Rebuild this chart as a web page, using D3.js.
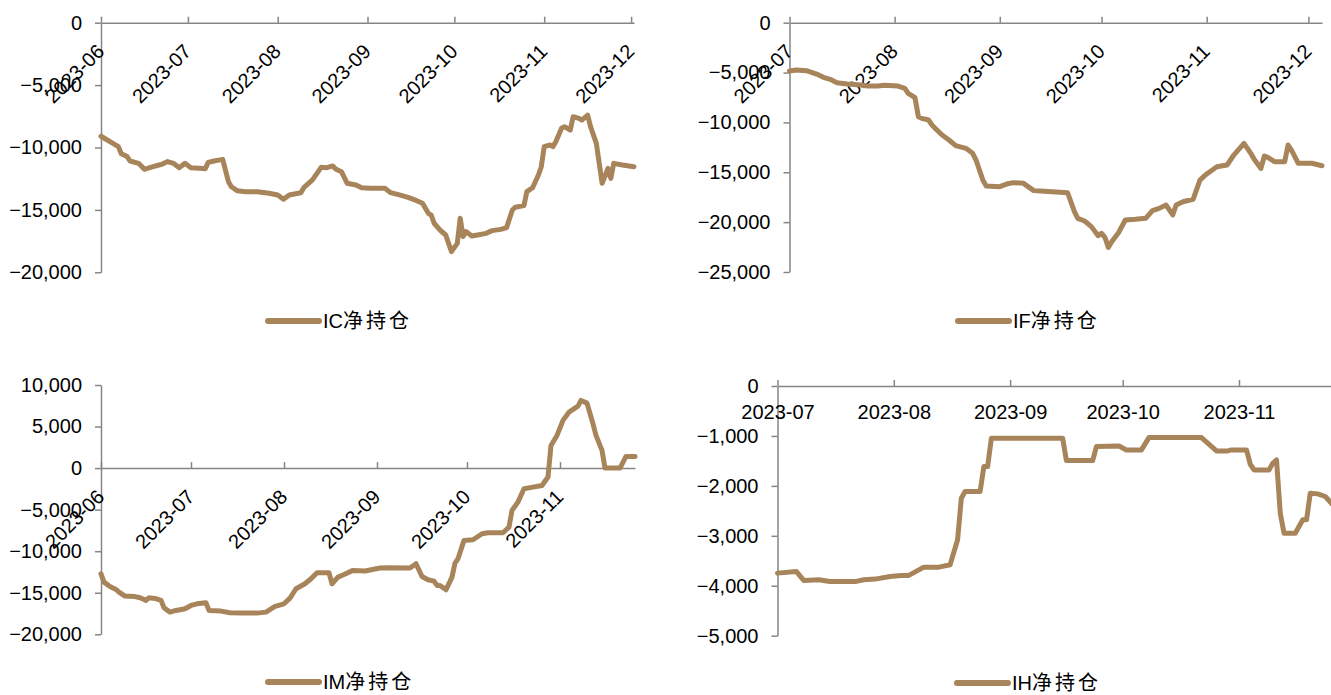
<!DOCTYPE html>
<html>
<head>
<meta charset="utf-8">
<script src="https://cdn.jsdelivr.net/npm/d3@7/dist/d3.min.js"></script>
<style>
  html, body { margin: 0; padding: 0; background: #fff; }
  svg { display: block; }
  text { font-family: "Liberation Sans", Arial, "Noto Sans CJK SC", sans-serif; fill: #000; }
</style>
</head>
<body>
<svg id="chart" width="1331" height="695"></svg>
<script>
// ---- data: net positions (lots) ----
const icDates = ["2023-06-01","2023-06-07","2023-06-08","2023-06-10","2023-06-11","2023-06-14","2023-06-16","2023-06-17","2023-06-19","2023-06-21","2023-06-22","2023-06-24","2023-06-26","2023-06-28","2023-06-30","2023-07-02","2023-07-05","2023-07-07","2023-07-08","2023-07-10","2023-07-13","2023-07-15","2023-07-16","2023-07-18","2023-07-21","2023-07-25","2023-07-29","2023-08-01","2023-08-03","2023-08-05","2023-08-09","2023-08-10","2023-08-13","2023-08-16","2023-08-18","2023-08-20","2023-08-21","2023-08-23","2023-08-25","2023-08-28","2023-08-30","2023-09-02","2023-09-07","2023-09-09","2023-09-12","2023-09-15","2023-09-18","2023-09-20","2023-09-22","2023-09-23","2023-09-24","2023-09-26","2023-09-28","2023-09-29","2023-09-30","2023-10-02","2023-10-03","2023-10-04","2023-10-05","2023-10-07","2023-10-09","2023-10-12","2023-10-14","2023-10-17","2023-10-19","2023-10-21","2023-10-22","2023-10-25","2023-10-26","2023-10-28","2023-10-30","2023-10-31","2023-11-01","2023-11-03","2023-11-04","2023-11-05","2023-11-07","2023-11-08","2023-11-10","2023-11-11","2023-11-13","2023-11-14","2023-11-16","2023-11-17","2023-11-19","2023-11-20","2023-11-21","2023-11-23","2023-11-24","2023-11-25","2023-11-28","2023-12-02"];
const icValues = [-9100,-9930,-10500,-10730,-11080,-11270,-11750,-11670,-11530,-11400,-11350,-11130,-11270,-11620,-11270,-11620,-11670,-11700,-11190,-11080,-10950,-12740,-13140,-13460,-13540,-13540,-13670,-13800,-14150,-13800,-13620,-13220,-12600,-11590,-11620,-11480,-11720,-11940,-12870,-13000,-13220,-13270,-13270,-13620,-13800,-13990,-14260,-14470,-15270,-15410,-16070,-16610,-17010,-17680,-18340,-17680,-15670,-17140,-16740,-17090,-17010,-16880,-16660,-16560,-16420,-15010,-14790,-14660,-13540,-13220,-12200,-11540,-9930,-9800,-9930,-9530,-8460,-8330,-8600,-7530,-7660,-7800,-7400,-8330,-9670,-11270,-12870,-11670,-12470,-11270,-11400,-11540];

const ifDates = ["2023-07-01","2023-07-03","2023-07-06","2023-07-09","2023-07-11","2023-07-13","2023-07-15","2023-07-18","2023-07-22","2023-07-24","2023-07-27","2023-07-29","2023-08-02","2023-08-04","2023-08-05","2023-08-07","2023-08-08","2023-08-09","2023-08-11","2023-08-12","2023-08-13","2023-08-15","2023-08-17","2023-08-19","2023-08-22","2023-08-24","2023-08-25","2023-08-27","2023-08-28","2023-09-01","2023-09-03","2023-09-05","2023-09-08","2023-09-11","2023-09-13","2023-09-21","2023-09-23","2023-09-24","2023-09-26","2023-09-28","2023-09-30","2023-10-01","2023-10-02","2023-10-03","2023-10-04","2023-10-06","2023-10-08","2023-10-11","2023-10-14","2023-10-16","2023-10-18","2023-10-20","2023-10-22","2023-10-23","2023-10-25","2023-10-28","2023-10-30","2023-11-01","2023-11-04","2023-11-07","2023-11-09","2023-11-12","2023-11-14","2023-11-15","2023-11-17","2023-11-18","2023-11-19","2023-11-21","2023-11-24","2023-11-25","2023-11-26","2023-11-28","2023-12-02","2023-12-05"];
const ifValues = [-4850,-4750,-4810,-5150,-5480,-5680,-6020,-6150,-6250,-6350,-6350,-6280,-6350,-6580,-7090,-7520,-9430,-9590,-9760,-10260,-10600,-11260,-11760,-12330,-12600,-13100,-13770,-15780,-16380,-16440,-16180,-16040,-16110,-16840,-16880,-17050,-18950,-19620,-19890,-20450,-21360,-21120,-21520,-22530,-21960,-21060,-19790,-19720,-19620,-18850,-18620,-18280,-19280,-18280,-17950,-17710,-15780,-15170,-14440,-14270,-13270,-12100,-13100,-13700,-14610,-13370,-13500,-13940,-13940,-12270,-12770,-14100,-14100,-14340];

const imDates = ["2023-06-01","2023-06-02","2023-06-04","2023-06-06","2023-06-07","2023-06-09","2023-06-12","2023-06-14","2023-06-15","2023-06-16","2023-06-17","2023-06-19","2023-06-21","2023-06-22","2023-06-24","2023-06-26","2023-06-29","2023-07-01","2023-07-03","2023-07-06","2023-07-07","2023-07-11","2023-07-14","2023-07-18","2023-07-23","2023-07-26","2023-07-29","2023-08-01","2023-08-03","2023-08-05","2023-08-08","2023-08-10","2023-08-12","2023-08-16","2023-08-17","2023-08-19","2023-08-21","2023-08-24","2023-08-28","2023-09-02","2023-09-05","2023-09-12","2023-09-14","2023-09-16","2023-09-18","2023-09-20","2023-09-21","2023-09-22","2023-09-24","2023-09-26","2023-09-27","2023-09-28","2023-09-30","2023-10-03","2023-10-06","2023-10-08","2023-10-13","2023-10-15","2023-10-16","2023-10-18","2023-10-20","2023-10-23","2023-10-26","2023-10-28","2023-10-29","2023-10-30","2023-10-31","2023-11-02","2023-11-04","2023-11-07","2023-11-08","2023-11-10","2023-11-12","2023-11-13","2023-11-15","2023-11-16","2023-11-21","2023-11-23","2023-11-26"];
const imValues = [-12720,-13720,-14240,-14600,-14920,-15400,-15440,-15600,-15760,-15920,-15600,-15680,-15920,-16810,-17330,-17130,-16930,-16530,-16330,-16210,-17130,-17210,-17410,-17450,-17450,-17330,-16650,-16330,-15640,-14520,-13920,-13320,-12600,-12600,-13920,-13120,-12800,-12310,-12390,-12030,-11990,-12030,-11510,-13040,-13440,-13600,-14120,-14120,-14640,-13120,-11430,-10910,-8700,-8620,-7900,-7780,-7780,-7100,-5090,-4090,-2490,-2290,-2090,-1080,2730,3330,3930,5740,6740,7460,8140,7820,5330,3930,2130,0,0,1400,1400];

const ihDates = ["2023-07-01","2023-07-06","2023-07-08","2023-07-12","2023-07-15","2023-07-22","2023-07-24","2023-07-27","2023-07-31","2023-08-03","2023-08-05","2023-08-09","2023-08-13","2023-08-16","2023-08-18","2023-08-19","2023-08-20","2023-08-24","2023-08-25","2023-08-26","2023-08-27","2023-08-30","2023-09-15","2023-09-16","2023-09-23","2023-09-24","2023-09-30","2023-10-02","2023-10-06","2023-10-08","2023-10-22","2023-10-26","2023-10-29","2023-10-30","2023-11-03","2023-11-04","2023-11-05","2023-11-09","2023-11-10","2023-11-11","2023-11-12","2023-11-13","2023-11-16","2023-11-18","2023-11-19","2023-11-20","2023-11-22","2023-11-24","2023-11-26"];
const ihValues = [-3747,-3713,-3893,-3880,-3913,-3913,-3880,-3867,-3813,-3793,-3793,-3627,-3627,-3580,-3080,-2247,-2113,-2113,-1613,-1613,-1047,-1047,-1047,-1493,-1493,-1213,-1200,-1280,-1280,-1033,-1033,-1300,-1300,-1280,-1280,-1567,-1680,-1680,-1547,-1480,-2547,-2947,-2947,-2680,-2680,-2147,-2160,-2213,-2380];

// ---- axis ticks and legend labels ----
const icYTicks = [0, -5000, -10000, -15000, -20000];
const ifYTicks = [0, -5000, -10000, -15000, -20000, -25000];
const imYTicks = [10000, 5000, 0, -5000, -10000, -15000, -20000];
const ihYTicks = [0, -1000, -2000, -3000, -4000, -5000];
const legendCodes = ["IC", "IF", "IM", "IH"];
const legendSuffix = "净持仓";

const parse = d3.timeParse("%Y-%m-%d");
const fmtMonth = d3.timeFormat("%Y-%m");
const fmtNum = d3.format(",");
const LINE_COLOR = "#A8845A";
const AXIS_COLOR = "#858585";

const svg = d3.select("#chart");

const panels = [
  { dates: icDates, values: icValues, yTicks: icYTicks, code: legendCodes[0],
    xDomain: ["2023-06-01", "2023-12-02"], xRange: [101, 634],
    yRange: [272.3, 22.7], rotate: true, legend: [268, 321] },
  { dates: ifDates, values: ifValues, yTicks: ifYTicks, code: legendCodes[1],
    xDomain: ["2023-07-01", "2023-12-05"], xRange: [789.5, 1322],
    yRange: [272, 22.7], rotate: true, legend: [958, 321] },
  { dates: imDates, values: imValues, yTicks: imYTicks, code: legendCodes[2],
    xDomain: ["2023-06-01", "2023-11-26"], xRange: [101, 635],
    yRange: [634.3, 385], rotate: true, legend: [268, 682] },
  // this panel runs past the right edge of the page
  { dates: ihDates, values: ihValues, yTicks: ihYTicks, code: legendCodes[3],
    xDomain: ["2023-07-01", "2023-11-28"], xRange: [777.5, 777.5 + 150 * 3.752],
    yRange: [635.7, 386], rotate: false, legend: [957, 683] }
];

panels.forEach(p => {
  const x = d3.scaleTime().domain(p.xDomain.map(parse)).range(p.xRange);
  const y = d3.scaleLinear().domain(d3.extent(p.yTicks)).range(p.yRange);
  const g = svg.append("g");

  // value axis
  const yAxis = g.append("g")
    .attr("transform", `translate(${p.xRange[0]},0)`)
    .call(d3.axisLeft(y).tickValues(p.yTicks).tickFormat(fmtNum)
      .tickSizeInner(6).tickSizeOuter(0).tickPadding(13));
  yAxis.select(".domain").attr("stroke", AXIS_COLOR).attr("stroke-width", 1.5);
  yAxis.selectAll(".tick line").attr("stroke", AXIS_COLOR).attr("stroke-width", 1.5);
  yAxis.selectAll(".tick text").attr("font-size", 20).attr("fill", "#000")
    .attr("font-family", "Liberation Sans, Arial, sans-serif");

  // date axis on the zero line, ticks pointing up
  const months = d3.timeMonth.range(x.domain()[0], d3.timeDay.offset(x.domain()[1], 1));
  const xAxis = g.append("g")
    .attr("transform", `translate(0,${y(0)})`)
    .call(d3.axisBottom(x).tickValues(months).tickFormat(fmtMonth)
      .tickSizeInner(-6).tickSizeOuter(0));
  xAxis.select(".domain").attr("stroke", AXIS_COLOR).attr("stroke-width", 1.5);
  xAxis.selectAll(".tick line").attr("stroke", AXIS_COLOR).attr("stroke-width", 1.5);
  const lbl = xAxis.selectAll(".tick text")
    .attr("font-size", 20).attr("fill", "#000")
    .attr("font-family", "Liberation Sans, Arial, sans-serif");
  if (p.rotate) {
    lbl.attr("y", null).attr("dy", null)
      .attr("text-anchor", "end")
      .attr("transform", "translate(4,30) rotate(-45)");
  } else {
    lbl.attr("y", 33).attr("dy", null).attr("text-anchor", "middle");
  }

  // series line
  const pts = p.dates.map((d, i) => [parse(d), p.values[i]]);
  g.append("path")
    .datum(pts)
    .attr("fill", "none")
    .attr("stroke", LINE_COLOR)
    .attr("stroke-width", 5)
    .attr("stroke-linejoin", "round")
    .attr("stroke-linecap", "round")
    .attr("d", d3.line().x(d => x(d[0])).y(d => y(d[1])));

  // legend
  const [lx, ly] = p.legend;
  g.append("line")
    .attr("x1", lx).attr("x2", lx + 51).attr("y1", ly).attr("y2", ly)
    .attr("stroke", LINE_COLOR).attr("stroke-width", 6).attr("stroke-linecap", "round");
  const t = g.append("text")
    .attr("x", lx + 55).attr("y", ly + 7)
    .attr("font-size", 20);
  t.append("tspan").text(p.code);
  t.append("tspan")
    .attr("font-family", "Noto Sans CJK SC, sans-serif")
    .attr("letter-spacing", 3)
    .text(legendSuffix);
});
</script>
</body>
</html>
